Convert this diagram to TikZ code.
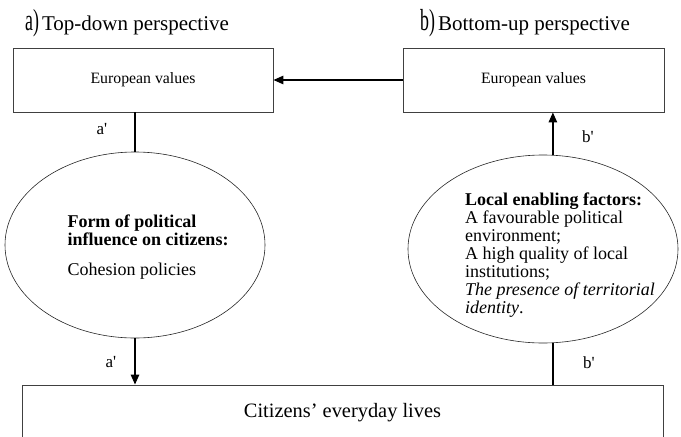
\documentclass[tikz,border=0pt]{standalone}
\usepackage{fontspec}
\setmainfont{Liberation Serif}
\usetikzlibrary{arrows.meta,shapes.geometric}
\newcommand{\tallmark}[1]{\scalebox{0.85}[1.45]{#1}}
\begin{document}
\begin{tikzpicture}[x=1pt,y=-1pt,
  boxstyle/.style={draw=black!75,line width=0.9pt,rectangle,inner sep=0pt,font=\fontsize{15.8}{18}\selectfont},
  ellstyle/.style={draw=black!85,line width=0.6pt,ellipse,inner sep=0pt},
  conn/.style={line width=1.4pt},
  tip/.style={-{Triangle[length=10pt,width=8.5pt]}},
  lbl/.style={font=\fontsize{17}{18}\selectfont,inner sep=0pt},
  ttl/.style={anchor=base west,inner sep=0pt,font=\fontsize{21}{21}\selectfont},
  etext/.style={align=left,inner sep=0pt,font=\fontsize{18}{18}\selectfont}]
\useasboundingbox (0,0) rectangle (681,437);
\clip (0,0) rectangle (681,437);
% titles
\node[ttl] (ta) at (25,30) {\tallmark{a)}\hspace{3pt}Top-down perspective};
\node[ttl] (tb) at (420,30) {\tallmark{b)}\hspace{3pt}Bottom-up perspective};
% boxes
\node[boxstyle,minimum width=260pt,minimum height=64pt] (boxA) at (143,80) {European values};
\node[boxstyle,minimum width=261pt,minimum height=64pt] (boxB) at (533.5,80) {European values};
\node[boxstyle,minimum width=641pt,minimum height=56pt,font=\fontsize{20.4}{22}\selectfont] (boxC) at (342.5,413) {Citizens’ everyday lives};
% ellipses
\node[ellstyle,minimum width=260pt,minimum height=186pt] (ellA) at (135,245) {};
\node[ellstyle,minimum width=270pt,minimum height=188pt] (ellB) at (543,249) {};
\node[etext] (ellAtext) at (148,247) {\textbf{Form of political}\\\textbf{influence on citizens:}\\[12pt]Cohesion policies};
\node[etext] (ellBtext) at (560,255) {\textbf{Local enabling factors:}\\A favourable political\\environment;\\A high quality of local\\institutions;\\\textit{The presence of territorial}\\\textit{identity}.};
% connectors
\draw[conn,tip] (boxB.west) -- (boxA.east);
\draw[conn] (boxA.south -| ellA.north) -- (ellA.north);
\draw[conn,tip] (ellA.south) -- (ellA.south |- boxC.north);
\draw[conn] (ellB.-84) -- (ellB.-84 |- boxC.north);
\draw[conn,tip] (ellB.84) -- (ellB.84 |- boxB.south);
% labels
\node[lbl] (la1) at (102,129) {a\textquotesingle};
\node[lbl] (la2) at (111,362) {a\textquotesingle};
\node[lbl] (lb1) at (588,137) {b\textquotesingle};
\node[lbl] (lb2) at (589,363) {b\textquotesingle};
\end{tikzpicture}
\end{document}
